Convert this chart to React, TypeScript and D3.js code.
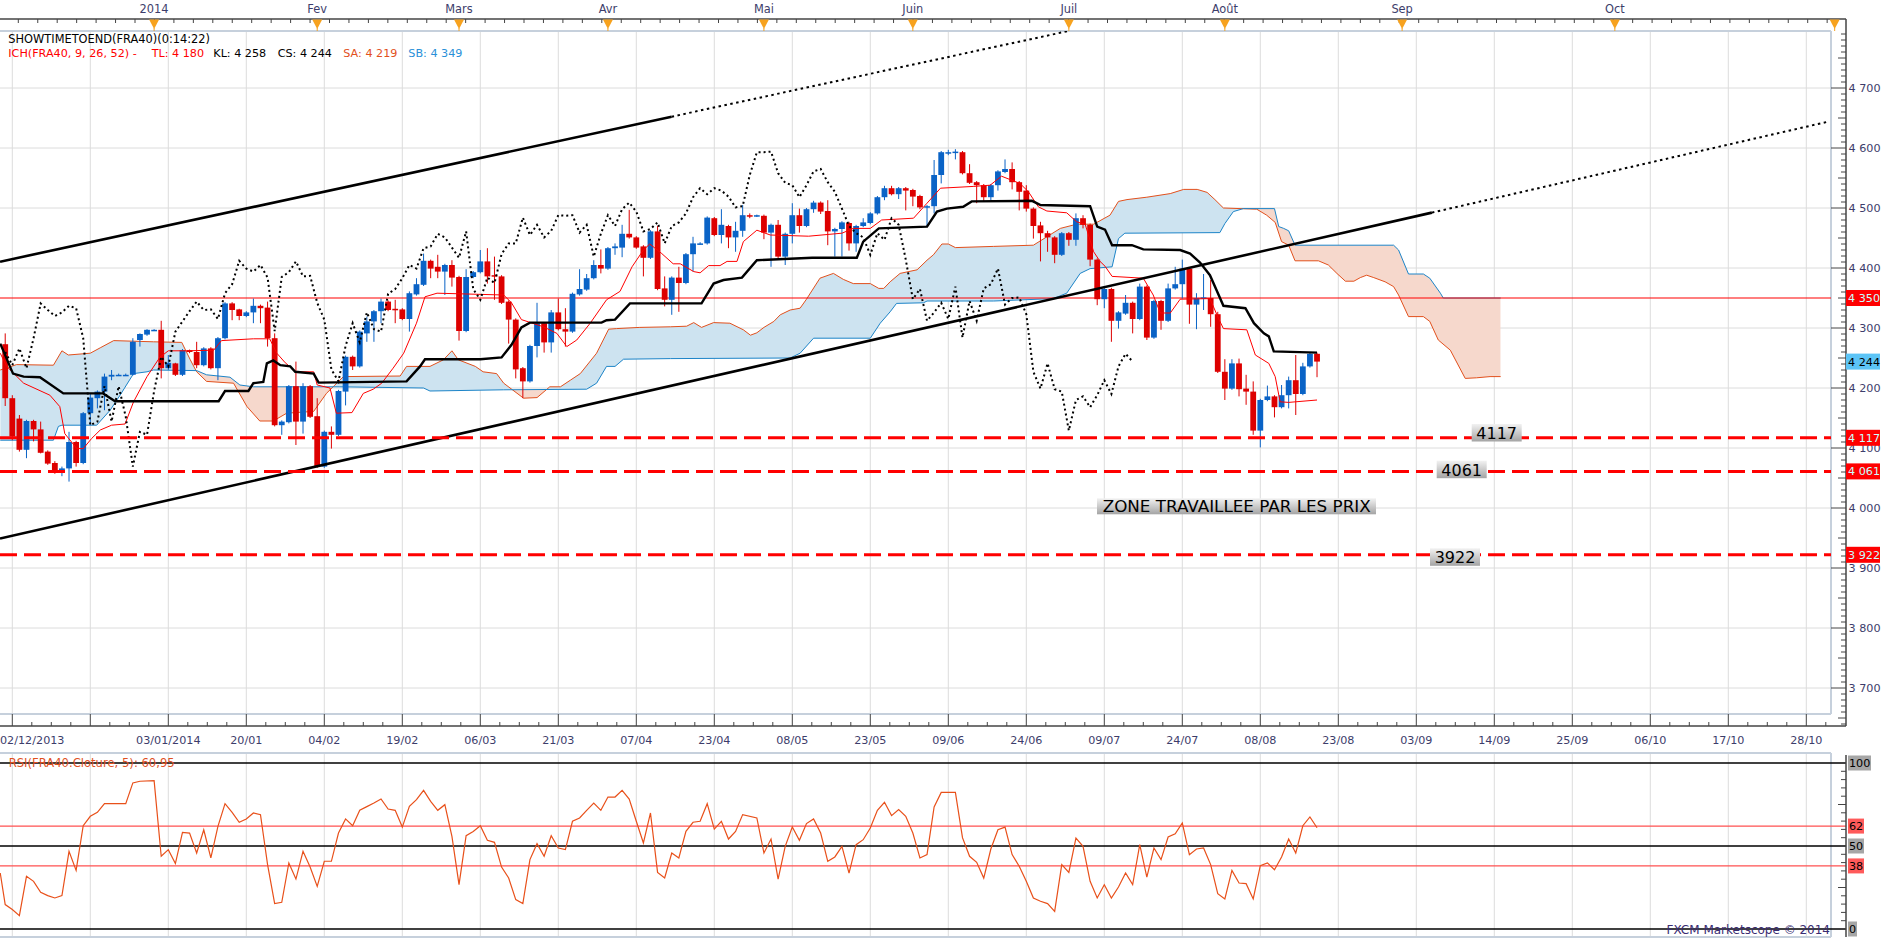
import React from "react";
import * as d3 from "d3";

type OHLC = [number, number, number, number];
type Pt = [number, number];

// ---- data: daily candles FRA40 (open, high, low, close), bar 0 = first visible bar
const candles: OHLC[] = [
  [4273,4291,4170,4183],[4183,4188,4113,4119],[4149,4155,4094,4097],[4097,4147,4083,4145],[4145,4147,4111,4131],
  [4131,4144,4091,4092],[4094,4096,4072,4074],[4075,4078,4057,4063],[4063,4069,4053,4066],[4066,4127,4044,4110],
  [4110,4112,4069,4075],[4075,4160,4073,4158],[4158,4191,4138,4184],[4183,4196,4166,4194],[4194,4224,4163,4219],
  [4219,4230,4213,4222],[4222,4224,4220,4222],[4222,4224,4220,4222],[4222,4283,4221,4277],[4280,4291,4269,4290],
  [4289,4298,4287,4297],[4297,4298,4296,4297],[4297,4312,4216,4233],[4233,4255,4230,4242],[4241,4242,4220,4222],
  [4222,4265,4220,4263],[4263,4264,4258,4260],[4260,4277,4233,4238],[4238,4268,4236,4266],[4266,4268,4231,4233],
  [4233,4285,4213,4283],[4283,4343,4281,4341],[4341,4343,4313,4330],[4331,4332,4313,4320],[4320,4328,4318,4326],
  [4326,4349,4308,4337],[4337,4339,4308,4333],[4334,4344,4269,4283],[4283,4291,4136,4138],[4138,4146,4122,4144],
  [4143,4205,4141,4203],[4203,4244,4105,4144],[4144,4208,4124,4203],[4203,4205,4150,4152],[4153,4183,4067,4069],
  [4069,4129,4067,4127],[4127,4136,4099,4122],[4122,4197,4120,4195],[4194,4254,4171,4252],[4252,4254,4230,4236],
  [4236,4296,4234,4294],[4291,4319,4277,4311],[4311,4330,4277,4328],[4328,4349,4308,4344],[4344,4346,4328,4330],
  [4332,4347,4308,4331],[4331,4333,4313,4315],[4315,4361,4294,4358],[4356,4383,4354,4373],[4372,4424,4370,4412],
  [4412,4414,4383,4399],[4402,4422,4383,4394],[4394,4407,4355,4405],[4405,4413,4369,4384],[4385,4387,4279,4295],
  [4295,4398,4293,4385],[4385,4395,4383,4393],[4393,4430,4391,4411],[4411,4433,4374,4386],[4388,4419,4347,4387],
  [4386,4388,4340,4342],[4344,4346,4274,4314],[4314,4316,4216,4231],[4233,4235,4183,4211],[4211,4272,4209,4270],
  [4270,4342,4251,4308],[4308,4310,4259,4276],[4276,4330,4259,4326],[4326,4349,4296,4298],[4298,4333,4269,4294],
  [4294,4359,4292,4357],[4356,4398,4354,4365],[4364,4390,4362,4383],[4383,4413,4381,4405],[4405,4431,4391,4399],
  [4399,4435,4397,4433],[4433,4441,4422,4436],[4434,4472,4418,4457],[4457,4497,4449,4451],[4451,4453,4432,4434],
  [4436,4438,4386,4417],[4417,4463,4415,4461],[4461,4470,4363,4365],[4366,4386,4336,4347],[4347,4386,4322,4384],
  [4384,4402,4327,4375],[4375,4425,4373,4423],[4423,4452,4394,4441],[4441,4443,4439,4441],[4441,4486,4439,4484],
  [4483,4485,4453,4455],[4455,4498,4441,4472],[4470,4472,4433,4451],[4451,4477,4427,4462],[4462,4505,4452,4488],
  [4488,4491,4483,4487],[4487,4489,4485,4488],[4487,4489,4448,4459],[4459,4474,4402,4472],[4472,4480,4416,4419],
  [4419,4459,4405,4457],[4457,4508,4441,4488],[4488,4499,4459,4470],[4470,4500,4468,4498],[4498,4512,4492,4509],
  [4509,4511,4490,4494],[4495,4513,4438,4461],[4461,4467,4419,4465],[4465,4478,4419,4476],[4475,4477,4429,4441],
  [4441,4472,4427,4470],[4470,4483,4468,4476],[4475,4493,4473,4491],[4491,4520,4489,4518],[4518,4537,4513,4533],
  [4533,4537,4521,4523],[4523,4535,4515,4533],[4533,4535,4496,4529],[4530,4532,4503,4519],[4520,4522,4498,4501],
  [4502,4505,4470,4503],[4503,4580,4491,4555],[4555,4595,4541,4593],[4592,4597,4588,4593],[4593,4598,4581,4594],
  [4593,4595,4556,4558],[4558,4573,4540,4542],[4543,4545,4508,4538],[4538,4540,4511,4518],[4518,4540,4511,4538],
  [4538,4563,4529,4561],[4560,4581,4558,4565],[4565,4576,4531,4543],[4543,4545,4496,4527],[4529,4538,4494,4499],
  [4499,4501,4449,4470],[4471,4477,4411,4458],[4458,4462,4427,4451],[4451,4453,4408,4422],[4422,4460,4420,4458],
  [4458,4460,4437,4447],[4447,4491,4437,4483],[4483,4488,4466,4472],[4472,4474,4403,4414],[4414,4416,4338,4348],
  [4348,4367,4333,4365],[4365,4367,4277,4312],[4312,4328,4299,4326],[4324,4355,4322,4342],[4342,4344,4291,4315],
  [4315,4374,4313,4369],[4369,4371,4280,4284],[4284,4347,4282,4345],[4345,4347,4297,4312],[4312,4374,4310,4366],
  [4366,4402,4364,4373],[4373,4414,4349,4399],[4399,4401,4307,4339],[4339,4358,4298,4350],[4349,4390,4330,4351],
  [4350,4380,4302,4323],[4323,4327,4225,4227],[4227,4248,4180,4199],[4199,4248,4197,4241],[4241,4249,4186,4198],
  [4199,4222,4172,4194],[4194,4211,4122,4129],[4129,4182,4101,4180],[4180,4204,4178,4186],[4186,4188,4151,4168],
  [4168,4205,4166,4188],[4188,4219,4166,4213],[4213,4255,4155,4190],[4190,4242,4188,4236],[4236,4259,4234,4257],
  [4257,4259,4218,4244],
];

// Tenkan-sen (bar, price)
const tenkan: Pt[] = [
  [-0.7,4258],[0.2,4236],[2.6,4208],[6.3,4188],[7.7,4169],[8.4,4124],[10.1,4099],[11.0,4099],[12.2,4116],[13.4,4130],
  [15.0,4138],[16.9,4140],[18.1,4177],[20.0,4219],[21.8,4251],[23.0,4262],[25.6,4262],[29.4,4263],[30.5,4279],[35.0,4282],
  [37.3,4282],[38.3,4258],[39.5,4242],[41.0,4227],[43.5,4227],[44.0,4205],[45.8,4200],[46.7,4158],[48.9,4159],[50.5,4191],
  [51.9,4198],[53.1,4208],[54.7,4233],[56.2,4258],[58.0,4308],[59.2,4352],[60.9,4358],[70.3,4355],[71.4,4342],[72.8,4314],
  [75.9,4302],[77.8,4291],[79.2,4269],[80.6,4280],[82.5,4308],[84.8,4347],[86.7,4361],[88.4,4402],[90.0,4430],[90.9,4440],
  [92.6,4424],[94.2,4407],[95.2,4407],[97.1,4394],[98.0,4392],[99.2,4404],[100.8,4404],[101.8,4411],[103.2,4411],[104.1,4444],
  [106.0,4463],[107.9,4455],[113.3,4453],[118.0,4458],[119.6,4466],[122.0,4466],[123.6,4480],[128.1,4483],[130.0,4508],[131.9,4533],
  [136.6,4536],[138.9,4538],[140.5,4553],[143.1,4541],[144.3,4527],[145.7,4502],[146.9,4495],[149.7,4492],[151.1,4477],[152.3,4473],
  [153.5,4427],[154.4,4411],[155.1,4403],[156.1,4386],[160.5,4383],[161.9,4355],[162.9,4325],[164.3,4325],[165.7,4348],[169.9,4349],
  [171.1,4316],[171.8,4299],[175.1,4297],[176.3,4255],[178.2,4241],[179.1,4219],[179.8,4177],[181.0,4176],[185.0,4180],
];

// Kijun-sen (bar, price)
const kijun: Pt[] = [
  [-0.7,4274],[1.1,4224],[2.6,4219],[4.9,4218],[8.2,4191],[13.8,4191],[15.5,4178],[30.1,4178],[31.0,4195],[34.3,4195],
  [35.0,4208],[36.4,4210],[36.9,4241],[37.8,4246],[38.8,4238],[40.2,4236],[40.9,4227],[43.5,4224],[44.2,4209],[56.6,4211],
  [58.5,4236],[59.2,4248],[67.0,4248],[70.0,4251],[71.4,4272],[72.8,4301],[74.0,4309],[84.1,4309],[84.8,4313],[86.0,4314],
  [88.1,4341],[98.2,4341],[99.9,4374],[101.3,4380],[103.9,4384],[106.0,4413],[113.8,4417],[120.1,4417],[121.0,4444],[123.2,4466],
  [130.0,4469],[131.4,4494],[132.8,4499],[135.1,4502],[136.3,4511],[144.8,4512],[146.0,4505],[153.0,4503],[154.0,4469],[155.1,4464],
  [156.1,4438],[158.9,4438],[160.5,4431],[165.7,4430],[167.1,4424],[168.5,4409],[169.9,4388],[171.8,4337],[174.9,4333],[176.1,4308],
  [177.5,4291],[178.2,4286],[178.9,4261],[185.0,4259],
];

// Senkou span A (bar, price)
const senkouA: Pt[] = [
  [-0.7,4230],[1.6,4239],[6.8,4238],[8.0,4262],[8.9,4255],[12.0,4258],[13.4,4267],[15.3,4279],[20.9,4277],[24.9,4276],
  [26.1,4247],[27.0,4227],[28.4,4211],[32.2,4208],[34.1,4169],[35.9,4145],[37.8,4145],[39.7,4158],[43.5,4161],[45.3,4191],
  [46.5,4205],[47.7,4219],[55.7,4220],[56.6,4236],[59.9,4236],[61.8,4247],[63.0,4262],[63.9,4247],[66.3,4236],[67.4,4227],
  [69.3,4224],[70.3,4208],[73.1,4183],[75.0,4184],[76.8,4202],[78.3,4202],[79.7,4213],[81.1,4224],[83.4,4258],[85.1,4298],
  [86.2,4299],[89.5,4301],[93.8,4302],[96.1,4303],[97.1,4309],[98.2,4301],[99.9,4309],[102.2,4308],[104.1,4297],[105.1,4288],
  [106.0,4292],[107.0,4301],[108.4,4311],[109.3,4322],[110.7,4330],[112.1,4333],[113.0,4348],[114.9,4383],[116.8,4391],[118.2,4381],
  [119.6,4374],[122.0,4374],[123.2,4366],[123.9,4366],[124.8,4377],[126.2,4391],[128.6,4397],[130.0,4413],[130.9,4422],[132.1,4440],
  [133.0,4440],[134.0,4434],[139.4,4436],[145.0,4438],[148.8,4466],[151.1,4473],[153.5,4473],[155.8,4488],[157.0,4511],[158.2,4514],
  [161.0,4518],[164.3,4524],[166.2,4531],[168.1,4531],[169.5,4526],[170.6,4514],[171.8,4500],[176.5,4498],[177.9,4488],[179.1,4476],
  [180.0,4444],[181.0,4438],[181.9,4412],[185.2,4412],[186.6,4405],[187.8,4391],[189.0,4378],[190.2,4378],[191.1,4384],[192.0,4388],
  [193.0,4384],[194.6,4377],[195.8,4369],[196.5,4355],[197.9,4319],[200.0,4319],[200.9,4311],[202.1,4280],[203.8,4263],[205.9,4216],
  [207.5,4217],[209.4,4219],[210.9,4219],
];

// Senkou span B (bar, price)
const senkouB: Pt[] = [
  [-0.7,4113],[6.8,4113],[7.5,4136],[8.0,4138],[12.9,4138],[14.8,4163],[16.2,4188],[18.1,4224],[20.0,4227],[20.9,4230],
  [27.0,4229],[28.4,4222],[31.7,4218],[33.1,4205],[35.0,4202],[47.2,4202],[59.0,4200],[59.9,4195],[70.3,4197],[82.0,4198],
  [83.4,4208],[84.8,4236],[86.0,4236],[87.2,4248],[93.8,4249],[110.7,4250],[112.1,4258],[114.0,4283],[122.0,4283],[123.4,4308],
  [124.8,4327],[125.7,4341],[129.5,4342],[130.0,4345],[139.4,4345],[147.8,4349],[149.7,4358],[151.6,4391],[153.0,4399],[156.1,4402],
  [157.0,4449],[157.9,4458],[171.3,4459],[172.0,4474],[173.2,4494],[174.6,4499],[179.0,4499],[179.6,4469],[180.3,4466],[181.0,4462],
  [181.9,4438],[195.8,4438],[196.5,4430],[197.9,4390],[200.0,4390],[200.9,4383],[202.4,4358],[202.8,4350],[210.9,4350],
];

// RSI(5) (bar, value)
const rsi: Pt[] = [
  [-0.7,33.7],[0,14.7],[1,11.7],[2,8.0],[3,31.7],[4,28.7],[5,22.1],[6,20.1],[7,18.7],[8,20.1],[9,46.8],[10,35.3],
  [11,62.2],[12,67.9],[13,70.3],[14,75.5],[17,75.5],[18,88.0],[19,89.0],[21,89.4],[22,43.8],[23,47.8],[24,39.4],[25,58.2],
  [26,57.8],[27,45.8],[28,59.8],[29,42.8],[30,61.8],[31,75.5],[32,70.3],[33,64.3],[34,66.3],[35,69.9],[36,68.9],[37,38.8],
  [38,15.3],[39,16.1],[40,39.8],[41,30.1],[42,46.8],[43,37.3],[44,25.7],[45,40.8],[46,40.8],[47,57.8],[48,66.3],[49,62.2],
  [50,71.5],[51,73.7],[52,75.9],[53,78.3],[54,72.3],[55,71.5],[56,61.4],[57,73.9],[58,77.9],[59,83.5],[60,76.9],[61,71.5],
  [62,74.9],[63,55.8],[64,26.7],[65,56.2],[66,58.8],[67,62.2],[68,53.4],[69,52.2],[70,37.3],[71,30.7],[72,17.7],[73,15.3],
  [74,41.8],[75,51.4],[76,43.8],[77,56.2],[78,48.8],[79,47.8],[80,64.9],[81,66.9],[82,71.5],[83,75.9],[84,71.5],[85,79.5],
  [86,79.5],[87,83.5],[88,78.3],[89,64.9],[90,51.8],[91,69.9],[92,34.1],[93,30.7],[94,45.8],[95,42.8],[96,58.8],[97,64.3],
  [98,64.9],[99,75.5],[100,60.2],[101,64.9],[102,54.2],[103,58.8],[104,68.9],[106,66.9],[107,45.8],[108,54.2],[109,30.1],[110,49.8],
  [111,61.4],[112,53.4],[113,63.5],[114,66.3],[115,57.8],[116,40.8],[117,43.4],[118,49.8],[119,33.7],[120,50.8],[121,53.8],[122,60.8],
  [123,71.5],[124,76.3],[125,68.3],[126,71.9],[127,67.9],[128,57.8],[129,42.8],[130,44.8],[131,73.5],[132,82.3],[134,82.3],[135,55.0],
  [136,43.8],[137,40.2],[138,30.7],[139,48.2],[140,59.8],[141,61.4],[142,44.8],[143,37.8],[144,28.7],[145,18.7],[146,16.7],[147,15.3],
  [148,10.6],[149,38.8],[150,34.1],[151,54.8],[152,49.8],[153,28.7],[154,18.7],[155,26.7],[156,18.7],[157,25.3],[158,33.7],[159,26.7],
  [160,50.8],[161,31.3],[162,48.8],[163,41.8],[164,55.4],[165,57.4],[166,63.9],[167,44.8],[168,48.2],[169,48.8],[170,38.8],[171,21.3],
  [172,18.1],[173,35.3],[174,27.7],[175,27.3],[176,18.1],[177,38.2],[178,39.8],[179,35.7],[180,43.4],[181,54.2],[182,45.8],[183,62.2],
  [184,67.5],[185,61.0],
];

// Trend channel lines (bar, price): start, end of solid part, end of dotted extension
const channelUpper: Pt[] = [[-0.73, 4410.5], [93.98, 4652.2], [150.15, 4795.5]];
const channelLower: Pt[] = [[-0.73, 3949.2], [201.2, 4492.3], [257.1, 4643.9]];

const monthBars: number[] = [21, 44, 64, 85, 107, 128, 150, 172, 197, 227, 258];
const monthNames: string[] = ["2014", "Fev", "Mars", "Avr", "Mai", "Juin", "Juil", "Août", "Sep", "Oct", ""];
const dateLabels: string[] = ["02/12/2013", "", "03/01/2014", "20/01", "04/02", "19/02", "06/03", "21/03", "07/04", "23/04",
  "08/05", "23/05", "09/06", "24/06", "09/07", "24/07", "08/08", "23/08", "03/09", "14/09", "25/09", "06/10", "17/10", "28/10"];
const priceTicks: number[] = [3700, 3800, 3900, 4000, 4100, 4200, 4300, 4400, 4500, 4600, 4700];
const supportLevels: number[] = [4117, 4061, 3922];
const resistanceLevel = 4350;
const lastClose = 4244;
const rsiGuides: number[] = [100, 62, 50, 38, 0];
const legendParts: string[] = ["ICH(FRA40, 9, 26, 52) -", "TL: 4 180", "KL: 4 258", "CS: 4 244", "SA: 4 219", "SB: 4 349"];

// ---- layout
const W = 1903, H = 940;
const P = { left: 0, right: 1831, top: 31, bottom: 714 };
const R = { top: 753, bottom: 937 };
const AX = 1846;
const FONT = "'DejaVu Sans', Verdana, sans-serif";
const AXC = "#3d3d6b";
const UP = "#0a63c6", DOWN = "#dd0000";
const TAG_BOXES: [number, number][] = [[1471.7, 424], [1436.7, 460.7], [1430, 548.3]];

const x = d3.scaleLinear().domain([1, 254]).range([12.3, 1806.3]);
const y = d3.scaleLinear().domain([3700, 4700]).range([688, 88]);
const ry = d3.scaleLinear().domain([0, 100]).range([929, 763]);

const fmt = (v: number) => `${Math.floor(v / 1000)} ${String(Math.round(v) % 1000).padStart(3, "0")}`;

export default function App() {
  const line = d3.line<Pt>().x(d => x(d[0])).y(d => y(d[1]));
  const rline = d3.line<Pt>().x(d => x(d[0])).y(d => ry(d[1]));
  const below = d3.area<Pt>().x(d => x(d[0])).y0(P.bottom).y1(d => y(d[1]));
  const above = d3.area<Pt>().x(d => x(d[0])).y0(P.top).y1(d => y(d[1]));
  const chikou: Pt[] = candles.slice(26).map((c, i) => [i, c[3]]);

  const gridX = dateLabels.map((_, k) => x(1 + 11 * k));
  const topTicks = d3.range(18.3, AX, 19.45);
  const botTicks = d3.range(12.3, P.right, 19.5);
  const yMinor = d3.range(3640, 4791, 10);
  const rMinor = d3.range(0, 101, 5);
  const bw = 5.8;

  return (
    <svg width={W} height={H} style={{ position: "absolute", left: 0, top: 0, background: "#fff" }} fontFamily={FONT}>
      <defs>
        <clipPath id="plot"><rect x={P.left} y={P.top} width={P.right - P.left} height={P.bottom - P.top} /></clipPath>
        <clipPath id="plot2"><rect x={P.left} y={R.top} width={P.right - P.left} height={R.bottom - R.top} /></clipPath>
        <clipPath id="aboveB"><path d={above(senkouB) || ""} /></clipPath>
        <clipPath id="aboveA"><path d={above(senkouA) || ""} /></clipPath>
        <linearGradient id="gbox" x1="0" y1="0" x2="0" y2="1">
          <stop offset="0" stopColor="#f2f2f2" />
          <stop offset="1" stopColor="#a4a4a4" />
        </linearGradient>
      </defs>
      <rect width={W} height={H} fill="#fff" />

      {/* grid main */}
      <g stroke="#dcdcdc" strokeWidth={1}>
        {gridX.map((gx, i) => <line key={"gv" + i} x1={gx} x2={gx} y1={P.top} y2={P.bottom} />)}
        {priceTicks.map(p => <line key={"gh" + p} x1={P.left} x2={P.right} y1={y(p)} y2={y(p)} />)}
        {gridX.map((gx, i) => <line key={"rv" + i} x1={gx} x2={gx} y1={R.top} y2={R.bottom} />)}
      </g>
      {/* panel frames */}
      <g fill="none" stroke="#c6d0dc" strokeWidth={2}>
        <line x1={P.left} x2={P.right} y1={P.top} y2={P.top} />
        <line x1={P.left} x2={P.right} y1={P.bottom} y2={P.bottom} />
        <line x1={P.right} x2={P.right} y1={P.top} y2={P.bottom} />
        <line x1={P.left} x2={P.right} y1={R.top} y2={R.top} />
        <line x1={P.left} x2={P.right} y1={R.bottom} y2={R.bottom} />
        <line x1={P.right} x2={P.right} y1={R.top} y2={R.bottom} />
      </g>

      <g clipPath="url(#plot)">
        {/* kumo */}
        <path d={below(senkouA) || ""} fill="#cde3f0" clipPath="url(#aboveB)" />
        <path d={below(senkouB) || ""} fill="#f6d8cc" clipPath="url(#aboveA)" />
        <path d={line(senkouA) || ""} fill="none" stroke="#e2501c" strokeWidth={1} />
        <path d={line(senkouB) || ""} fill="none" stroke="#1c84c8" strokeWidth={1} />

        {/* resistance */}
        <line x1={P.left} x2={P.right} y1={y(resistanceLevel)} y2={y(resistanceLevel)} stroke="#ff0000" strokeWidth={1.2} />

        {/* candles */}
        {candles.map((c, i) => {
          const [o, h, l, cl] = c;
          const col = cl >= o ? UP : DOWN;
          const cx = x(i);
          const top = y(Math.max(o, cl));
          const hgt = Math.max(1.5, Math.abs(y(o) - y(cl)));
          return (
            <g key={"c" + i}>
              <line x1={cx} x2={cx} y1={y(h)} y2={y(l)} stroke={col} strokeWidth={1} />
              <rect x={cx - bw / 2} y={top} width={bw} height={hgt} fill={col} />
            </g>
          );
        })}

        {/* ichimoku lines */}
        <path d={line(tenkan) || ""} fill="none" stroke="#ff0000" strokeWidth={1} />
        <path d={line(kijun) || ""} fill="none" stroke="#000" strokeWidth={2.4} />
        <path d={line(chikou) || ""} fill="none" stroke="#000" strokeWidth={2} strokeDasharray="2 3" />

        {/* channel */}
        <path d={line(channelUpper.slice(0, 2)) || ""} fill="none" stroke="#000" strokeWidth={2.6} />
        <path d={line(channelUpper.slice(1)) || ""} fill="none" stroke="#000" strokeWidth={2} strokeDasharray="2.5 3.5" />
        <path d={line(channelLower.slice(0, 2)) || ""} fill="none" stroke="#000" strokeWidth={2.6} />
        <path d={line(channelLower.slice(1)) || ""} fill="none" stroke="#000" strokeWidth={2} strokeDasharray="2.5 3.5" />

        {/* support levels */}
        {supportLevels.map(v => (
          <line key={"lv" + v} x1={P.left} x2={P.right} y1={y(v)} y2={y(v)} stroke="#ff0000" strokeWidth={3} strokeDasharray="17 7" />
        ))}
      </g>

      {/* level tags in plot */}
      {supportLevels.map((v, i) => (
        <g key={"tag" + v}>
          <rect x={TAG_BOXES[i][0]} y={TAG_BOXES[i][1]} width={50} height={17.5} fill="url(#gbox)" />
          <text x={TAG_BOXES[i][0] + 25} y={TAG_BOXES[i][1] + 15} textAnchor="middle" fontSize={16} fill="#000">{String(v)}</text>
        </g>
      ))}
      <rect x={1097} y={498.3} width={279} height={16} fill="url(#gbox)" />
      <text x={1236.7} y={512.3} textAnchor="middle" fontSize={16} fill="#000" textLength={268} lengthAdjust="spacingAndGlyphs">ZONE TRAVAILLEE PAR LES PRIX</text>

      {/* legend */}
      <text x={8.3} y={43} fontSize={11.4} fill="#000">SHOWTIMETOEND(FRA40)(0:14:22)</text>
      <g fontSize={11.2}>
        <text x={8.3} y={56.5} fill="#ff0000">{legendParts[0]}</text>
        <text x={151.7} y={56.5} fill="#ff0000">{legendParts[1]}</text>
        <text x={213.3} y={56.5} fill="#000">{legendParts[2]}</text>
        <text x={277.7} y={56.5} fill="#000">{legendParts[3]}</text>
        <text x={343.3} y={56.5} fill="#e2501c">{legendParts[4]}</text>
        <text x={408.3} y={56.5} fill="#2a90d8">{legendParts[5]}</text>
      </g>

      {/* top time axis */}
      <line x1={0} x2={AX} y1={19} y2={19} stroke="#444" strokeWidth={1.5} />
      {topTicks.map((t, i) => <line key={"tt" + i} x1={t} x2={t} y1={19} y2={23} stroke="#444" strokeWidth={1} />)}
      {monthBars.map((b, i) => (
        <g key={"m" + i}>
          <path d={`M${x(b) - 5},19.5L${x(b) + 5},19.5L${x(b)},29Z`} fill="#f7a21e" />
          <line x1={x(b)} x2={x(b)} y1={28} y2={31} stroke="#f7a21e" strokeWidth={1} />
          {monthNames[i] && (
            <text x={x(b)} y={13} textAnchor="middle" fontSize={11.4} fill={AXC}>{monthNames[i]}</text>
          )}
        </g>
      ))}

      {/* right price axis */}
      <line x1={AX} x2={AX} y1={19} y2={726} stroke="#444" strokeWidth={1.5} />
      {yMinor.map(v => {
        const len = v % 100 === 0 ? 15 : v % 50 === 0 ? 8 : 5;
        return <line key={"yt" + v} x1={AX - len} x2={AX} y1={y(v)} y2={y(v)} stroke="#444" strokeWidth={1} />;
      })}
      {priceTicks.map(p => (
        <text key={"yl" + p} x={1848.5} y={y(p) + 4} fontSize={11.2} fill={AXC}>{fmt(p)}</text>
      ))}
      {/* price tags */}
      <rect x={1846} y={y(resistanceLevel) - 8} width={34} height={16} fill="#ff0000" />
      <text x={1848} y={y(resistanceLevel) + 4} fontSize={11.2} fill="#c8ffff">{fmt(resistanceLevel)}</text>
      {supportLevels.map(v => (
        <g key={"pt" + v}>
          <rect x={1846} y={y(v) - 8} width={34} height={16} fill="#ff0000" />
          <text x={1848} y={y(v) + 4} fontSize={11.2} fill="#c8ffff">{fmt(v)}</text>
        </g>
      ))}
      <rect x={1846} y={y(lastClose) - 8} width={34} height={16} fill="#5cc4f6" />
      <text x={1848} y={y(lastClose) + 4} fontSize={11.2} fill="#000">{fmt(lastClose)}</text>

      {/* bottom date axis */}
      <line x1={0} x2={AX} y1={726} y2={726} stroke="#444" strokeWidth={1.5} />
      {botTicks.map((t, i) => <line key={"bt" + i} x1={t} x2={t} y1={i % 4 === 0 ? 714 : 722} y2={726} stroke="#444" strokeWidth={1} />)}
      {dateLabels.map((d, k) => d && (
        <text key={"dl" + k} x={k === 0 ? 0 : gridX[k]} y={744} textAnchor={k === 0 ? "start" : "middle"} fontSize={11.2} fill={AXC}>{d}</text>
      ))}

      {/* RSI panel */}
      {rsiGuides.map(v => (
        <line key={"rg" + v} x1={P.left} x2={AX} y1={ry(v)} y2={ry(v)}
          stroke={v === 62 || v === 38 ? "#ff5050" : "#000"} strokeWidth={1.4} />
      ))}
      <g clipPath="url(#plot2)">
        <path d={rline(rsi) || ""} fill="none" stroke="#e8501a" strokeWidth={1.2} />
      </g>
      <text x={8.7} y={767} fontSize={11.6} fill="#e0501e">RSI(FRA40.Cloture, 5): 60,95</text>
      <line x1={AX} x2={AX} y1={755} y2={937} stroke="#444" strokeWidth={1.5} />
      {rMinor.map(v => (
        <line key={"rt" + v} x1={AX - (v === 25 || v === 75 ? 8 : 5)} x2={AX} y1={ry(v)} y2={ry(v)} stroke="#444" strokeWidth={1} />
      ))}
      {rsiGuides.map(v => {
        const s = String(v);
        const w = s.length * 7 + 2;
        return (
          <g key={"rl" + v}>
            <rect x={1848} y={ry(v) - 7.5} width={w} height={15} fill={v === 62 || v === 38 ? "#ff5a5a" : "#a6a6a6"} />
            <text x={1849} y={ry(v) + 4} fontSize={11.2} fill="#000">{s}</text>
          </g>
        );
      })}
      <text x={1830} y={934} textAnchor="end" fontSize={12} fill="#3a2c72">FXCM Marketscope © 2014</text>
    </svg>
  );
}
